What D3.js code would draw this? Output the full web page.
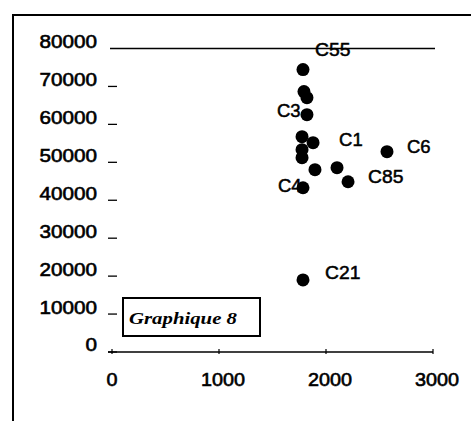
<!DOCTYPE html>
<html>
<head>
<meta charset="utf-8">
<script src="https://cdn.jsdelivr.net/npm/d3@7"></script>
<style>
  html, body { margin: 0; padding: 0; background: #fff; }
  svg { display: block; }
  text { font-family: "Liberation Sans", Arial, sans-serif; fill: #000; }
</style>
</head>
<body>
<svg id="chart" width="471" height="421"></svg>
<script>
// ---- data ----
const xTicks = [0, 1000, 2000, 3000];
const yTicks = [0, 10000, 20000, 30000, 40000, 50000, 60000, 70000, 80000];
const xValues = [1785, 1794, 1822, 1822, 1776, 1879, 1776, 1776, 1897, 2103, 2206, 1785, 2570, 1785];
const yValues = [74450, 68650, 67050, 62570, 56760, 55180, 53330, 51220, 48050, 48580, 44880, 43300, 52800, 19000];
const pointLabels = ["C55", "", "", "C3", "", "C1", "", "", "", "", "C85", "C4", "C6", "C21"];
const chartTitle = "Graphique 8";

// ---- layout ----
const svg = d3.select("#chart");
const x = d3.scaleLinear().domain([0, 3000]).range([112, 433]);
const y = d3.scaleLinear().domain([0, 80000]).range([352, 48.5]);

// label placement offsets (pixels from the point)
const labelOffsets = {
  "C55": [12, -20], "C3": [-30, -4], "C1": [26, -3], "C6": [20, -5],
  "C85": [20, -5], "C4": [-25, -2], "C21": [22, -7]
};

// outer frame (top and left border of the scanned figure)
svg.append("line").attr("x1", 13).attr("x2", 471).attr("y1", 15).attr("y2", 15)
  .attr("stroke", "#000").attr("stroke-width", 2);
svg.append("line").attr("x1", 13).attr("x2", 13).attr("y1", 14).attr("y2", 421)
  .attr("stroke", "#000").attr("stroke-width", 2);

// top gridline at max
svg.append("line").attr("x1", 110).attr("x2", 435)
  .attr("y1", y(80000)).attr("y2", y(80000))
  .attr("stroke", "#000").attr("stroke-width", 1.4);

// y axis ticks + labels
const yAxisG = svg.append("g");
yAxisG.selectAll("line.tick").data(yTicks.filter(d => d < 80000)).join("line")
  .attr("x1", 108).attr("x2", 117)
  .attr("y1", d => y(d)).attr("y2", d => y(d))
  .attr("stroke", "#000").attr("stroke-width", 1.3);
yAxisG.selectAll("text").data(yTicks).join("text")
  .attr("x", 97).attr("y", d => y(d) - 7)
  .attr("dy", "0.36em")
  .attr("text-anchor", "end")
  .attr("font-size", 18)
  .attr("stroke", "#000").attr("stroke-width", 0.6)
  .attr("textLength", d => String(d).length * 11.5)
  .attr("lengthAdjust", "spacingAndGlyphs")
  .text(d => d);

// x axis line, ticks, labels
svg.append("line").attr("x1", 108).attr("x2", 433)
  .attr("y1", y(0)).attr("y2", y(0))
  .attr("stroke", "#000").attr("stroke-width", 1.4);
svg.append("g").selectAll("line").data(xTicks).join("line")
  .attr("x1", d => x(d)).attr("x2", d => x(d))
  .attr("y1", y(0) - 3).attr("y2", y(0) + 2)
  .attr("stroke", "#000").attr("stroke-width", 1.2);
svg.append("g").selectAll("text").data(xTicks).join("text")
  .attr("x", d => x(d) + (d === 0 ? 0 : 4))
  .attr("y", 380)
  .attr("dy", "0.36em")
  .attr("text-anchor", "middle")
  .attr("font-size", 18)
  .attr("stroke", "#000").attr("stroke-width", 0.6)
  .attr("textLength", d => String(d).length * 11)
  .attr("lengthAdjust", "spacingAndGlyphs")
  .text(d => d);

// point labels (drawn before points so points overlap them)
const pts = xValues.map((v, i) => ({ x: v, y: yValues[i], label: pointLabels[i] }));
svg.append("g").selectAll("text").data(pts.filter(d => d.label)).join("text")
  .attr("x", d => x(d.x) + labelOffsets[d.label][0])
  .attr("y", d => y(d.y) + labelOffsets[d.label][1])
  .attr("dy", "0.36em")
  .attr("font-size", 18)
  .attr("stroke", "#000").attr("stroke-width", 0.5)
  .attr("textLength", d => d.label.length * 11.8)
  .attr("lengthAdjust", "spacingAndGlyphs")
  .text(d => d.label);

// points
svg.append("g").selectAll("circle").data(pts).join("circle")
  .attr("cx", d => x(d.x)).attr("cy", d => y(d.y))
  .attr("r", 6.5).attr("fill", "#000");

// legend/title box
const box = svg.append("g");
box.append("rect").attr("x", 123).attr("y", 298).attr("width", 137).attr("height", 38)
  .attr("fill", "#fff").attr("stroke", "#000").attr("stroke-width", 2);
box.append("text")
  .attr("x", 129).attr("y", 324)
  .style("font-family", "'Liberation Serif', 'Times New Roman', serif")
  .attr("font-size", 17).attr("font-style", "italic").attr("font-weight", "bold")
  .attr("textLength", 108).attr("lengthAdjust", "spacingAndGlyphs")
  .text(chartTitle);
</script>
</body>
</html>
